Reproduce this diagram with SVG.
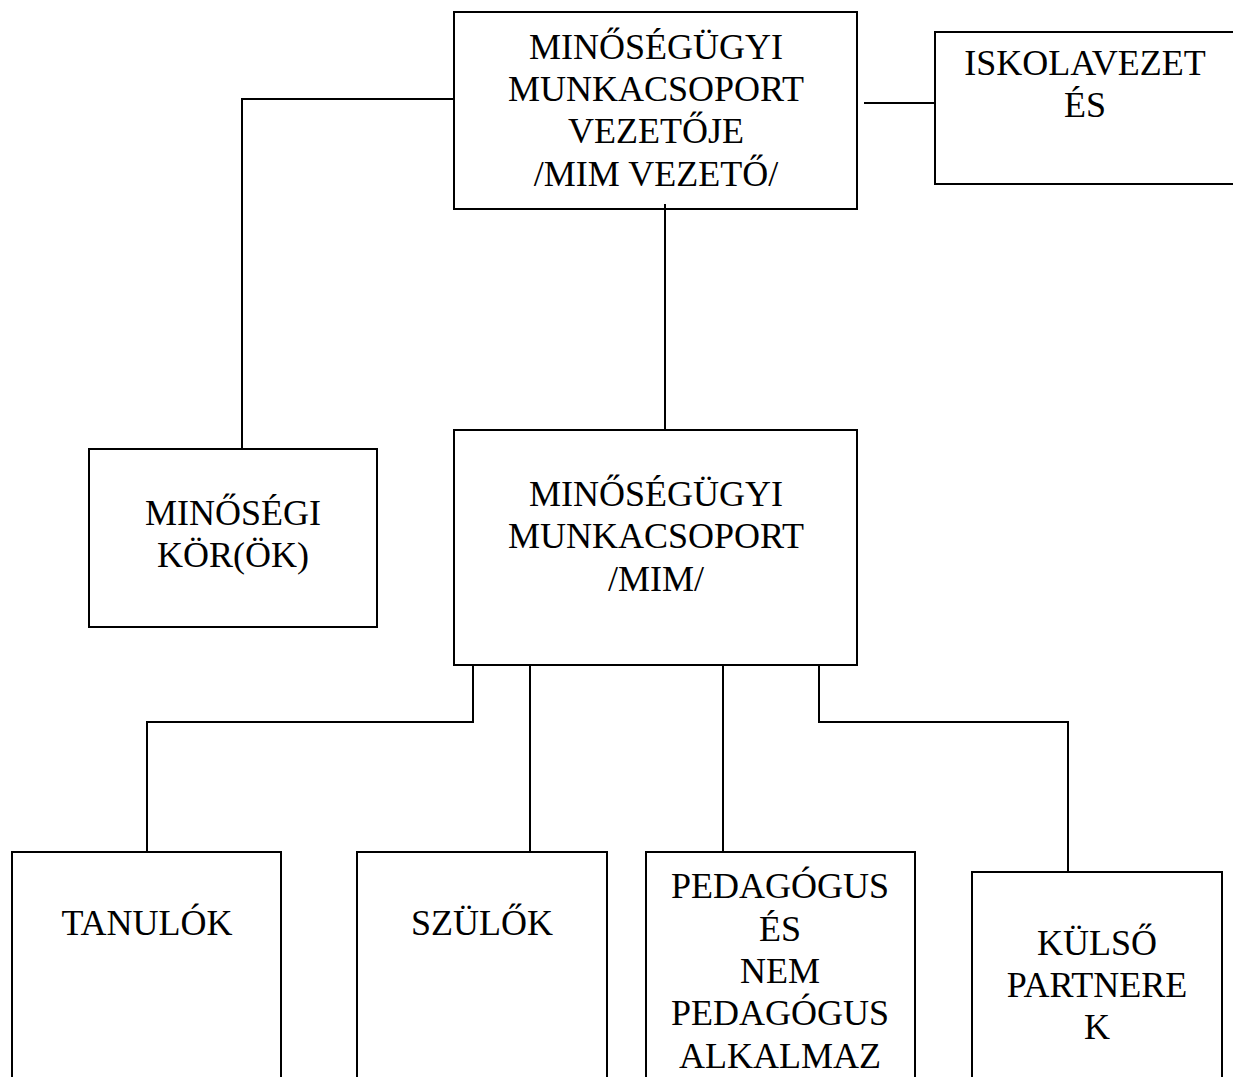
<svg xmlns="http://www.w3.org/2000/svg" width="1233" height="1077" viewBox="0 0 1233 1077">
<style>
.box{fill:#fff;stroke:#000;stroke-width:2}
.c{fill:none;stroke:#000;stroke-width:2}
text{font-family:"Liberation Serif","Times New Roman",serif;font-size:36px;fill:#000;text-anchor:middle}
</style>
<rect width="1233" height="1077" fill="#fff"/>
<g id="connectors">
<polyline class="c" points="454,99 242,99 242,455"/>
<line class="c" x1="864" y1="103" x2="935" y2="103"/>
<line class="c" x1="665" y1="204" x2="665" y2="436"/>
<polyline class="c" points="473,665 473,722 147,722 147,858"/>
<line class="c" x1="530" y1="665" x2="530" y2="858"/>
<line class="c" x1="723" y1="665" x2="723" y2="858"/>
<polyline class="c" points="819,665 819,722 1068,722 1068,878"/>
</g>
<g id="mim-vezeto">
<rect class="box" x="454" y="12" width="403" height="197" fill-opacity="0"/>
<text x="656" y="59">MINŐSÉGÜGYI</text>
<text x="656" y="101">MUNKACSOPORT</text>
<text x="656" y="143">VEZETŐJE</text>
<text x="656" y="186">/MIM VEZETŐ/</text>
</g>
<g id="iskolavezetes">
<rect class="box" x="935" y="32" width="310" height="152"/>
<text x="1085" y="75">ISKOLAVEZET</text>
<text x="1085" y="117">ÉS</text>
</g>
<g id="minosegi-korok">
<rect class="box" x="89" y="449" width="288" height="178"/>
<text x="233" y="525">MINŐSÉGI</text>
<text x="233" y="567">KÖR(ÖK)</text>
</g>
<g id="mim">
<rect class="box" x="454" y="430" width="403" height="235"/>
<text x="656" y="506">MINŐSÉGÜGYI</text>
<text x="656" y="548">MUNKACSOPORT</text>
<text x="656" y="591">/MIM/</text>
</g>
<g id="tanulok">
<rect class="box" x="12" y="852" width="269" height="240"/>
<text x="147" y="935">TANULÓK</text>
</g>
<g id="szulok">
<rect class="box" x="357" y="852" width="250" height="240"/>
<text x="482" y="935">SZÜLŐK</text>
</g>
<g id="pedagogus">
<rect class="box" x="646" y="852" width="269" height="240"/>
<text x="780" y="898">PEDAGÓGUS</text>
<text x="780" y="941">ÉS</text>
<text x="780" y="983">NEM</text>
<text x="780" y="1025">PEDAGÓGUS</text>
<text x="780" y="1068">ALKALMAZ</text>
</g>
<g id="kulso-partnerek">
<rect class="box" x="972" y="872" width="250" height="220"/>
<text x="1097" y="955">KÜLSŐ</text>
<text x="1097" y="997">PARTNERE</text>
<text x="1097" y="1039">K</text>
</g>
</svg>
